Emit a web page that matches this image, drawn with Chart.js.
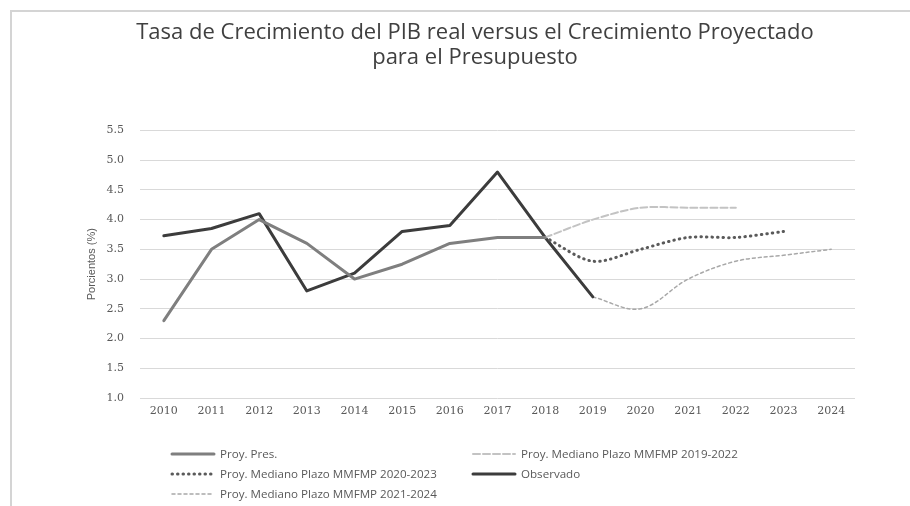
<!DOCTYPE html>
<html>
<head>
<meta charset="utf-8">
<script src="https://cdn.jsdelivr.net/npm/chart.js@4/dist/chart.umd.min.js"></script>
<style>
  html, body { margin: 0; padding: 0; background: #fff; }
  #wrap { position: relative; width: 910px; height: 506px; overflow: hidden; }
  #frame { position: absolute; left: 10px; top: 10px; width: 920px; height: 520px; border: 2px solid #d4d4d4; box-sizing: border-box; }
  #c { position: absolute; left: 0; top: 0; }
  #legend { position: absolute; left: 170px; top: 444px; display: grid; grid-template-columns: 301px 300px; row-gap: 1px;
            font-family: "Open Sans", sans-serif; font-size: 11.6px; color: #595959; }
  .li { display: flex; align-items: center; height: 19px; white-space: nowrap; }
  .li canvas { margin-right: 4px; }
</style>
</head>
<body>
<div id="wrap">
  <div id="frame"></div>
  <canvas id="c" width="910" height="506"></canvas>
  <div id="legend"></div>
</div>
<script>
const years = ['2010','2011','2012','2013','2014','2015','2016','2017','2018','2019','2020','2021','2022','2023','2024'];
const proyPres   = [2.3, 3.5, 4.0, 3.6, 3.0, 3.25, 3.6, 3.7, 3.7, null, null, null, null, null, null];
const mmfmp1922  = [null, null, null, null, null, null, null, null, 3.7, 4.0, 4.2, 4.2, 4.2, null, null];
const mmfmp2023  = [null, null, null, null, null, null, null, null, 3.7, 3.3, 3.5, 3.7, 3.7, 3.8, null];
const observado  = [3.73, 3.85, 4.1, 2.8, 3.1, 3.8, 3.9, 4.8, 3.7, 2.7, null, null, null, null, null];
const mmfmp2124  = [null, null, null, null, null, null, null, null, null, 2.7, 2.5, 3.0, 3.3, 3.4, 3.5];
const seriesNames = ['Proy. Pres.', 'Proy. Mediano Plazo MMFMP 2019-2022', 'Proy. Mediano Plazo MMFMP 2020-2023', 'Observado', 'Proy. Mediano Plazo MMFMP 2021-2024'];
const yTickMin = 1.0, yTickMax = 5.5, yTickStep = 0.5;
const titleLines = ['Tasa de Crecimiento del PIB real versus el Crecimiento Proyectado', 'para el Presupuesto'];
const yTitle = 'Porcientos (%)';

const styles = [
  { borderColor: '#7f7f7f', borderWidth: 3, borderDash: [], tension: 0 },
  { borderColor: '#c3c3c3', borderWidth: 2, borderDash: [7, 3], tension: 0.3 },
  { borderColor: '#5a5a5a', borderWidth: 3, borderDash: [0.5, 5], tension: 0.3 },
  { borderColor: '#3c3c3c', borderWidth: 3, borderDash: [], tension: 0 },
  { borderColor: '#a8a8a8', borderWidth: 1.5, borderDash: [3, 3], tension: 0.35 }
];
const seriesData = [proyPres, mmfmp1922, mmfmp2023, observado, mmfmp2124];

const datasets = seriesData.map((d, i) => ({
  label: seriesNames[i],
  data: d,
  borderColor: styles[i].borderColor,
  backgroundColor: styles[i].borderColor,
  borderWidth: styles[i].borderWidth,
  borderDash: styles[i].borderDash,
  borderCapStyle: 'round',
  borderJoinStyle: 'round',
  tension: styles[i].tension,
  pointRadius: 0,
  pointHoverRadius: 0,
  fill: false,
  spanGaps: false,
  yAxisID: 'y'
}));

const chart = new Chart(document.getElementById('c'), {
  type: 'line',
  data: { labels: years, datasets: datasets },
  options: {
    responsive: false,
    animation: false,
    devicePixelRatio: 1,
    layout: { padding: { left: 40, right: 0, top: 10, bottom: 78 } },
    plugins: {
      legend: { display: false },
      tooltip: { enabled: false },
      title: {
        display: true,
        text: titleLines,
        color: '#404040',
        font: { family: 'Open Sans', size: 22, weight: 'normal', lineHeight: 1.1 },
        padding: { top: 11, bottom: 61 }
      }
    },
    scales: {
      x: {
        offset: true,
        grid: { display: false, drawTicks: false },
        border: { display: false },
        ticks: { color: '#595959', font: { family: 'DejaVu Serif', size: 11 }, padding: 7, maxRotation: 0, autoSkip: false },
        afterFit: (s) => { s.height = 30; }
      },
      y: {
        position: 'left',
        min: yTickMin, max: yTickMax,
        grid: { color: '#d9d9d9', lineWidth: 1, drawTicks: false },
        border: { display: false },
        ticks: { stepSize: yTickStep, color: '#595959', font: { family: 'DejaVu Serif', size: 11 }, padding: 16,
                 callback: (v) => Number(v).toFixed(1) },
        title: { display: true, text: yTitle, color: '#595959', font: { family: 'Liberation Sans', size: 11 }, padding: { top: 45, bottom: 0 } },
        afterFit: (s) => { s.width = 100; }
      },
      yr: {
        position: 'right',
        min: yTickMin, max: yTickMax,
        grid: { display: false, drawTicks: false },
        border: { display: false },
        ticks: { display: false },
        afterFit: (s) => { s.width = 55; }
      }
    }
  }
});

// HTML legend built from the chart's datasets
const legendEl = document.getElementById('legend');
chart.data.datasets.forEach((ds) => {
  const item = document.createElement('div');
  item.className = 'li';
  const cv = document.createElement('canvas');
  cv.width = 46; cv.height = 10;
  const ctx = cv.getContext('2d');
  ctx.strokeStyle = ds.borderColor;
  ctx.lineWidth = ds.borderWidth;
  ctx.lineCap = 'round';
  ctx.setLineDash(ds.borderDash || []);
  ctx.beginPath(); ctx.moveTo(2, 5); ctx.lineTo(44, 5); ctx.stroke();
  const sp = document.createElement('span');
  sp.textContent = ds.label;
  item.appendChild(cv); item.appendChild(sp);
  legendEl.appendChild(item);
});
</script>
</body>
</html>
